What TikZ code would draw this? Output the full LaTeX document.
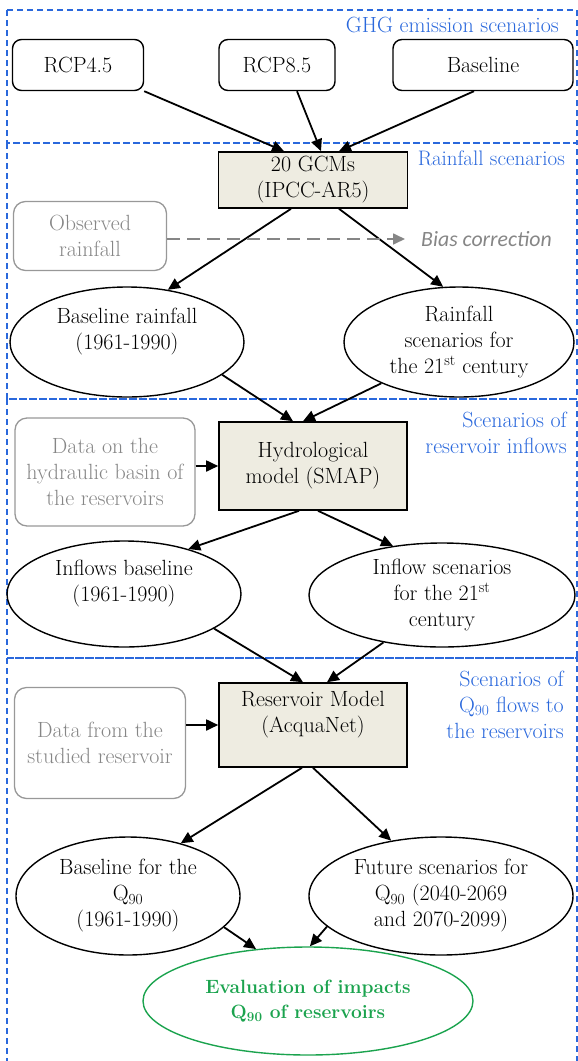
\documentclass[tikz,border=0pt]{standalone}
\usepackage{fontspec}
\newfontfamily\biasfont{Carlito}
\usetikzlibrary{arrows.meta,shapes.geometric}
\definecolor{zoneblue}{HTML}{2A68DC}
\definecolor{boxfill}{HTML}{EEECE1}
\definecolor{inputgray}{HTML}{868686}
\definecolor{evalgreen}{HTML}{1BA34E}

\begin{document}
\begin{tikzpicture}[x=1pt,y=-1pt,
	font=\fontsize{22}{26}\selectfont,
	>={Triangle[length=12pt,width=11pt]},
	flow/.style={->,line width=1.8pt},
	biasflow/.style={->,draw=inputgray,line width=1.7pt,dash pattern=on 13pt off 7pt},
	scen/.style={draw,rounded corners=9pt,line width=1.4pt,minimum height=51pt,inner sep=0},
	model/.style={draw,fill=boxfill,line width=1.6pt,inner sep=0,align=center},
	outcome/.style={draw,ellipse,line width=1.4pt,inner sep=0,align=center},
	inputbox/.style={draw=inputgray!85,text=inputgray,rounded corners=12pt,line width=1.3pt,inner sep=0,align=center},
	zone/.style={draw=zoneblue,line width=1.2pt,dash pattern=on 6pt off 4pt},
	zonelabel/.style={text=zoneblue,anchor=east,align=right,inner sep=0}]
	 \useasboundingbox (0,0) rectangle (578,1061);
	 \clip (0,0) rectangle (578,1061);
	 
	 %Zones
	 \draw[zone] (7,10) rectangle (577,143);
	 \draw[zone] (7,143) rectangle (577,399);
	 \draw[zone] (7,399) rectangle (577,658);
	 \draw[zone] (7,658) rectangle (577,1080);
	 \node[zonelabel] (lghg) at (559,25) {GHG emission scenarios};
	 \node[zonelabel,font=\fontsize{21}{26}\selectfont] (lrain) at (565,158) {Rainfall scenarios};
	 \node[zonelabel] (linflow) at (567,433) {Scenarios of\\reservoir inflows};
	 \node[zonelabel] (lq90) at (564,705) {Scenarios of\\Q\textsubscript{90} flows to\\the reservoirs};
	 
	 %GHG emission scenarios
	 \node[scen,minimum width=131pt] (rcp45) at (78,65) {RCP4.5};
	 \node[scen,minimum width=116pt] (rcp85) at (277,65) {RCP8.5};
	 \node[scen,minimum width=180pt] (base) at (483,65) {Baseline};
	 
	 %Rainfall scenarios
	 \node[model,minimum width=189pt,minimum height=56pt] (gcm) at (313,180) {20 GCMs\\(IPCC-AR5)};
	 \node[inputbox,minimum width=153pt,minimum height=69pt] (obs) at (90,236) {Observed\\rainfall};
	 \node[font=\biasfont\itshape\fontsize{21.8}{24}\selectfont,text=inputgray,anchor=west,inner sep=0] (bias) at (421,239) {Bias correction};
	 \node[outcome,minimum width=234pt,minimum height=110pt] (brain) at (127,342) {Baseline rainfall\\(1961-1990)\\\mbox{}};
	 \node[outcome,minimum width=230pt,minimum height=110pt] (rscen) at (459,342) {Rainfall\\scenarios for\\the 21\textsuperscript{st} century};
	 
	 \draw[flow] (rcp45.south east) -- ([xshift=-29pt]gcm.north);
	 \draw[flow] ([xshift=20pt]rcp85.south) -- ([xshift=8pt]gcm.north);
	 \draw[flow] ([xshift=-9pt]base.south) -- ([xshift=26pt]gcm.north);
	 \draw[flow] ([xshift=-22pt]gcm.south) -- (brain.52);
	 \draw[flow] ([xshift=26pt]gcm.south) -- (rscen.106);
	 \draw[biasflow] (obs.east |- bias.west) -- ([xshift=-16pt]bias.west);
	 
	 %Reservoir inflows
	 \node[model,minimum width=188pt,minimum height=88pt] (hydro) at (313,466) {Hydrological\\model (SMAP)};
	 \node[inputbox,minimum width=180pt,minimum height=108pt] (hdata) at (105,472) {Data on the\\hydraulic basin of\\the reservoirs};
	 \node[outcome,minimum width=234pt,minimum height=106pt] (ibase) at (124,594) {Inflows baseline\\(1961-1990)\\\mbox{}};
	 \node[outcome,minimum width=266pt,minimum height=104pt] (iscen) at (442,595) {Inflow scenarios\\for the 21\textsuperscript{st}\\century};
	 
	 \draw[flow] (brain.-19) -- ([xshift=-20pt]hydro.north);
	 \draw[flow] (rscen.208) -- ([xshift=-10pt]hydro.north);
	 \draw[flow] (hdata.east |- hydro.west) -- (hydro.west);
	 \draw[flow] ([xshift=-14pt]hydro.south) -- (ibase.35);
	 \draw[flow] ([xshift=5pt]hydro.south) -- (iscen.135);
	 
	 %Q90 flows to the reservoirs
	 \node[model,minimum width=188pt,minimum height=84pt] (resv) at (313,725) {Reservoir Model\\(AcquaNet)\\\mbox{}};
	 \node[inputbox,minimum width=171pt,minimum height=111pt] (rdata) at (100,743) {Data from the\\studied reservoir};
	 \node[outcome,minimum width=224pt,minimum height=118pt] (qbase) at (128,896) {Baseline for the\\Q\textsubscript{90}\\(1961-1990)};
	 \node[outcome,minimum width=264pt,minimum height=118pt] (qfut) at (441,896) {Future scenarios for\\Q\textsubscript{90} (2040-2069\\and 2070-2099)};
	 \node[outcome,draw=evalgreen,text=evalgreen,font=\fontsize{19.2}{25}\selectfont\bfseries,minimum width=330pt,minimum height=108pt] (eval) at (308,1001) {Evaluation of impacts\\Q\textsubscript{90} of reservoirs};
	 
	 \draw[flow] (ibase.-21) -- ([xshift=-10pt]resv.north);
	 \draw[flow] (iscen.219) -- ([xshift=14pt]resv.north);
	 \draw[flow] (rdata.east |- resv.west) -- (resv.west);
	 \draw[flow] ([xshift=-11pt]resv.south) -- (qbase.45);
	 \draw[flow] (resv.south) -- (qfut.132);
	 \draw[flow] (qbase.-18) -- (eval.135);
	 \draw[flow] (qfut.195) -- (eval.88);
\end{tikzpicture}
\end{document}
